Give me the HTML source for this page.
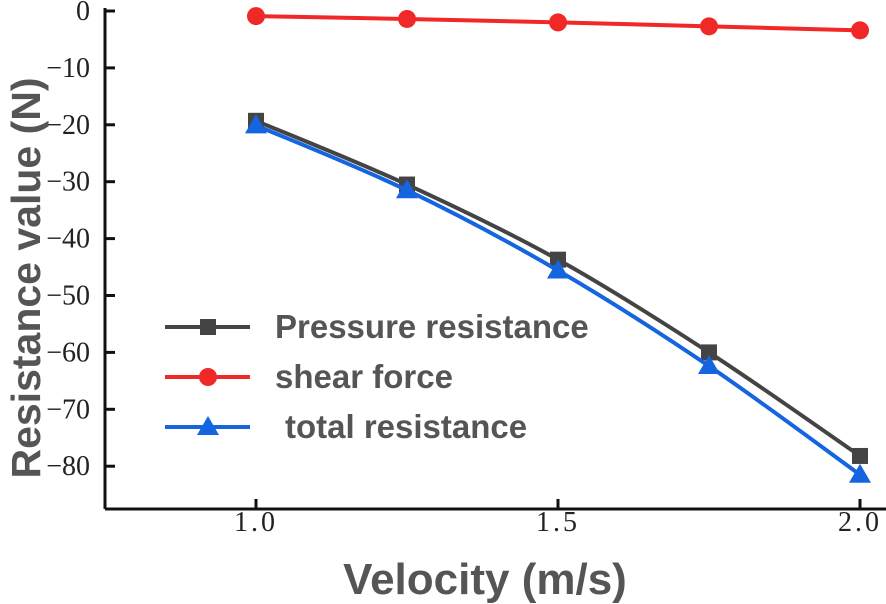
<!DOCTYPE html>
<html><head><meta charset="utf-8"><style>
body{margin:0;background:#fff}
svg{display:block}
.tick{font-family:"Liberation Serif",serif;font-size:28px;fill:#222}
.title{font-family:"Liberation Sans",sans-serif;font-weight:bold;font-size:44px;fill:#555}
.ytitle{font-family:"Liberation Sans",sans-serif;font-weight:bold;font-size:41px;fill:#555}
.leg{font-family:"Liberation Sans",sans-serif;font-weight:bold;font-size:33px;fill:#555}
</style></head><body>
<svg id="chart" width="886" height="604" xmlns="http://www.w3.org/2000/svg"></svg>
<script>
const categories=[1.0,1.25,1.5,1.75,2.0];
const pressure=[-19.3,-30.5,-43.7,-60.0,-78.2];
const shear=[-0.9,-1.4,-2.0,-2.7,-3.4];
const total=[-20.1,-31.5,-45.6,-62.4,-81.5];
const yTicks=[0,-10,-20,-30,-40,-50,-60,-70,-80];
const xTicks=[1.0,1.5,2.0];
const xTickLabels=["1.0","1.5","2.0"];
const NS="http://www.w3.org/2000/svg";
const svg=document.getElementById('chart');
const X=v=>256+(v-1)*604;
const Y=v=>11-v*5.69;
function el(t,a,p){const e=document.createElementNS(NS,t);for(const k in a)e.setAttribute(k,a[k]);(p||svg).appendChild(e);return e;}
const ax=el('path',{d:'M105 509 H886 M105 509 V8',stroke:'#111','stroke-width':3,fill:'none'});


yTicks.forEach(v=>{
 const t=el('line',{x1:105,x2:115,y1:Y(v),y2:Y(v),stroke:'#111','stroke-width':3});
 
 
 const l=el('text',{x:90,y:Y(v)+9,'text-anchor':'end',class:'tick'});
 l.textContent=v===0?'0':'\u2212'+Math.abs(v);
 
 
});
xTicks.forEach((v,i)=>{
 const t=el('line',{x1:X(v),x2:X(v),y1:509,y2:499,stroke:'#111','stroke-width':3});
 
 
 const l=el('text',{x:X(v),y:531,'text-anchor':'middle',class:'tick','letter-spacing':'3'});
 l.textContent=xTickLabels[i];
 
 
});
const xt=el('text',{x:485,y:594,'text-anchor':'middle',class:'title'});xt.textContent='Velocity (m/s)';


const yt=el('text',{x:0,y:0,'text-anchor':'middle',class:'ytitle',transform:'translate(40,278) rotate(-90)'});yt.textContent='Resistance value (N)';


function spline(pts){let d='M'+pts[0][0]+' '+pts[0][1];
 for(let i=0;i<pts.length-1;i++){const p0=pts[i-1]||pts[i],p1=pts[i],p2=pts[i+1],p3=pts[i+2]||p2;
 d+=` C${p1[0]+(p2[0]-p0[0])/6} ${p1[1]+(p2[1]-p0[1])/6} ${p2[0]-(p3[0]-p1[0])/6} ${p2[1]-(p3[1]-p1[1])/6} ${p2[0]} ${p2[1]}`;}return d;}
function marker(type,x,y,c,name){let m;
 if(type==='sq')m=el('rect',{x:x-8,y:y-8,width:16,height:16,fill:c});
 else if(type==='ci')m=el('circle',{cx:x,cy:y,r:9,fill:c});
 else m=el('polygon',{points:`${x},${y-11} ${x-11},${y+8} ${x+11},${y+8}`,fill:c});
 
 }
const series=[[pressure,'#444','sq','pressure'],[shear,'#f02828','ci','shear'],[total,'#1565e0','tr','total']];
[series[0],series[2],series[1]].forEach(s=>{
 const pts=categories.map((c,i)=>[X(c),Y(s[0][i])]);
 const p=el('path',{d:spline(pts),stroke:s[1],'stroke-width':4,fill:'none'});
 
 
 pts.forEach(q=>marker(s[2],q[0],q[1],s[1],s[3]+'-point'));
});
const legText=['Pressure resistance','shear force',' total resistance'];
series.forEach((s,i)=>{const y=327+i*50;
 const l=el('line',{x1:165,x2:250,y1:y,y2:y,stroke:s[1],'stroke-width':4});
 
 
 marker(s[2],208,y,s[1],'legend-marker-'+s[3]);
 const t=el('text',{x:i===2?285:275,y:y+11,class:'leg'});t.textContent=legText[i].trim();
 
 
});
</script>
</body></html>
